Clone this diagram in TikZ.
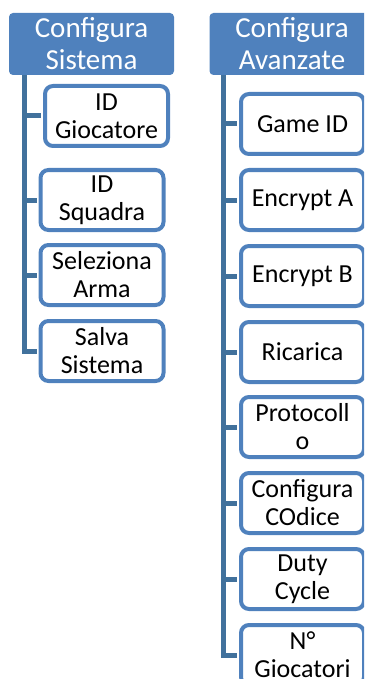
\documentclass[tikz,border=0pt]{standalone}
\usepackage{fontspec}
\setmainfont{Carlito}
\definecolor{smblue}{HTML}{4F81BD}
\definecolor{smline}{HTML}{41719C}
\tikzset{
  titolo/.style={fill=smblue, rounded corners=4pt, text=white, minimum width=165pt, minimum height=62pt,
    align=center, inner sep=0pt, font=\fontsize{29}{32}\selectfont},
  voce/.style={draw=smblue, line width=4pt, fill=white, rounded corners=8pt, minimum width=123pt,
    minimum height=60pt, align=center, inner sep=0pt, font=\fontsize{26}{28}\selectfont},
  ramo/.style={draw=smline, line width=5pt, shorten >=2pt}
}
\begin{document}
\begin{tikzpicture}[x=1pt,y=-1pt]
\clip (0,0) rectangle (364,679);
\node[titolo] (sis) at (91.5,44) {Configura\\Sistema};
\node[titolo] (ava) at (292,44) {Configura\\Avanzate};
\coordinate (st) at ([xshift=15.5pt]sis.south west);
\coordinate (at) at ([xshift=14.5pt]ava.south west);
\node[voce] (s1) at (106.5,116) {ID\\Giocatore};
\node[voce] (s2) at (102,200) {ID\\Squadra};
\node[voce] (s3) at (102,275) {Seleziona\\Arma};
\node[voce] (s4) at (102,351) {Salva\\Sistema};
\node[voce] (a1) at (302.5,124) {Game ID};
\node[voce] (a2) at (302.5,200) {Encrypt A};
\node[voce] (a3) at (302.5,276) {Encrypt B};
\node[voce] (a4) at (302.5,352) {Ricarica};
\node[voce] (a5) at (302.5,427) {Protocoll\\o};
\node[voce] (a6) at (302.5,503) {Configura\\COdice};
\node[voce] (a7) at (302.5,579) {Duty\\Cycle};
\node[voce] (a8) at (302.5,655) {N°\\Giocatori};
\foreach \v in {s1,s2,s3,s4}
  \draw[ramo] (st) |- (\v.west);
\foreach \v in {a1,a2,a3,a4,a5,a6,a7,a8}
  \draw[ramo] (at) |- (\v.west);
\end{tikzpicture}
\end{document}
